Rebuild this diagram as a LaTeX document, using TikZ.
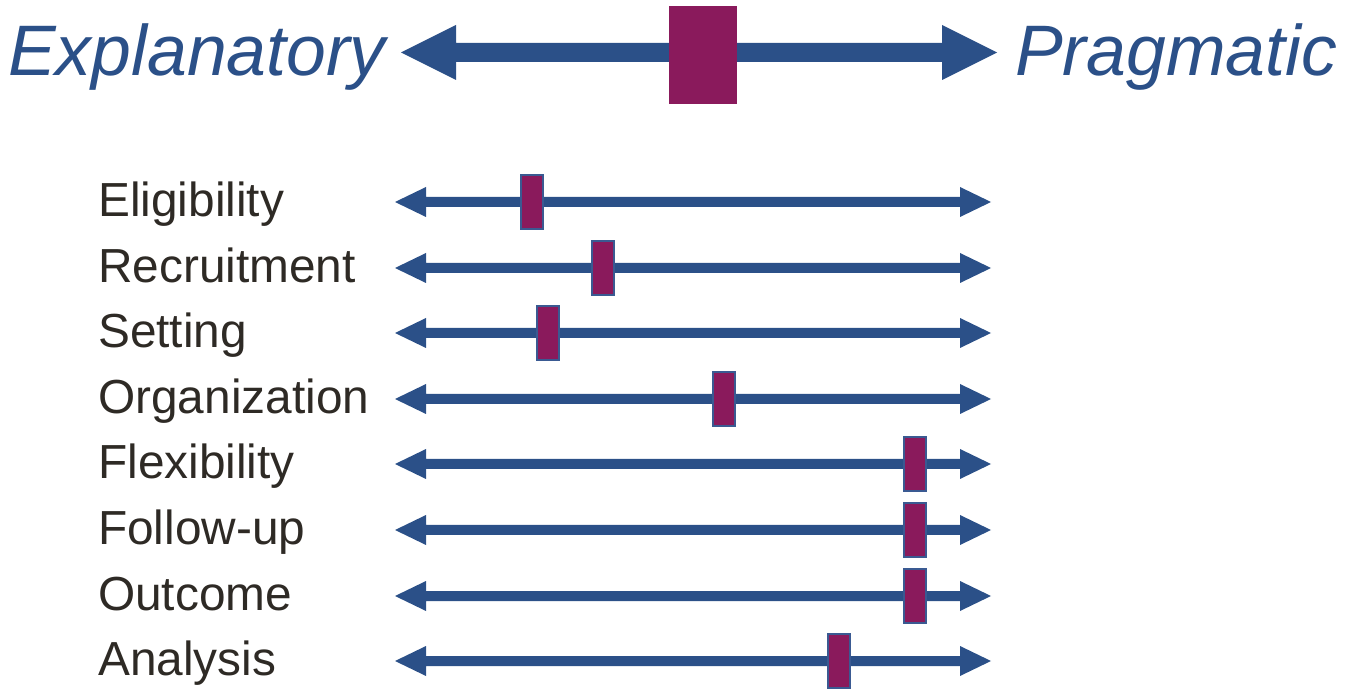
\documentclass[tikz,border=0pt]{standalone}
\usepackage{fontspec}
\setmainfont{Liberation Sans}
\definecolor{arrblue}{HTML}{2B5088}
\definecolor{mkpurple}{HTML}{8A1A5C}
\definecolor{mkedge}{HTML}{3A5A92}
\definecolor{lbl}{HTML}{2E2A25}
\tikzset{
  arrowbody/.style={fill=arrblue, draw=none},
  marker/.style={fill=mkpurple, draw=mkedge, line width=1.2pt, minimum width=22pt, minimum height=54pt, inner sep=0pt},
  bigmarker/.style={fill=mkpurple, draw=none, minimum width=68pt, minimum height=98pt, inner sep=0pt},
  rowlabel/.style={anchor=base west, inner sep=0pt, text=lbl, font=\fontsize{47.8}{50}\selectfont},
  endlabel/.style={anchor=base west, inner sep=0pt, text=arrblue, font=\fontsize{71.5}{75}\selectfont\itshape},
  pics/dblarrow/.style={code={
    \fill[arrowbody] (395,0) -- (426,-15) -- (426,-5) -- (960,-5) -- (960,-15) -- (991,0)
      -- (960,15) -- (960,5) -- (426,5) -- (426,15) -- cycle;
  }}
}
\begin{document}
\begin{tikzpicture}[x=1pt,y=-1pt]
\useasboundingbox (0,0) rectangle (1345,692);
% top arrow
\fill[arrowbody] (401,52.5) -- (456,25) -- (456,43) -- (942,43) -- (942,25) -- (997,52.5)
  -- (942,80) -- (942,62) -- (456,62) -- (456,80) -- cycle;
\node[bigmarker] (main) at (703,55) {};
\node[endlabel] (expl) at (8,76) {Explanatory};
\node[endlabel] (prag) at (1015,76) {Pragmatic};
% rows
\foreach \nm/\txt/\yy/\mx in {
  elig/Eligibility/202/532,
  recr/Recruitment/268/603,
  sett/Setting/333/548,
  orga/Organization/399/724,
  flex/Flexibility/464/915,
  foll/Follow-up/530/915,
  outc/Outcome/596/915,
  anal/Analysis/661/839}{
  \pic (\nm-arrow) at (0,\yy) {dblarrow};
  \node[marker] (\nm-mark) at (\mx,\yy) {};
  \node[rowlabel] (\nm-label) at (98,\yy+14.5) {\txt};
}
\end{tikzpicture}
\end{document}
